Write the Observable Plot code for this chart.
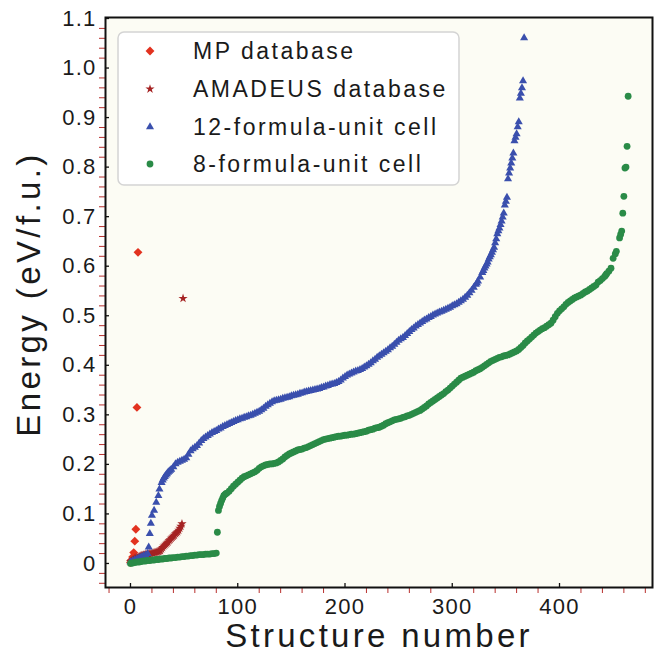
<!DOCTYPE html>
<html><head><meta charset="utf-8">
<script src="https://cdn.jsdelivr.net/npm/d3@7"></script>
<script src="https://cdn.jsdelivr.net/npm/@observablehq/plot@0.6"></script>
<style>
html,body{margin:0;padding:0;background:#fff;}
#chart{width:654px;height:655px;}
svg text{font-family:"Liberation Sans",Arial,Helvetica,sans-serif;}
g[aria-label="x-axis tick label"] text, g[aria-label="y-axis tick label"] text{letter-spacing:1.2px;}
</style></head><body><div id="chart"></div>
<script>
// ---- data ----
const seriesNames = ["MP database", "AMADEUS database", "12-formula-unit cell", "8-formula-unit cell"];
const seriesColors = ["#e2321f", "#a52323", "#3a4fad", "#2a8b47"];

const mpN = [0, 1, 2, 3, 4, 5, 6, 7];
const mpE = [0.002, 0.007, 0.013, 0.022, 0.045, 0.069, 0.315, 0.628];

const amaN = [0, 1, 2, 3, 4, 5, 6, 7, 8, 9, 10, 11, 12, 13, 14, 15, 16, 17, 18, 19, 20, 21, 22, 23, 24, 25, 26, 27, 28, 29, 30, 31, 32, 33, 34, 35, 36, 37, 38, 39, 40, 41, 42, 43, 44, 45, 46, 47, 48, 49];
const amaE = [0.004, 0.005, 0.007, 0.008, 0.010, 0.011, 0.012, 0.013, 0.014, 0.015, 0.016, 0.016, 0.017, 0.017, 0.018, 0.018, 0.019, 0.019, 0.020, 0.020, 0.021, 0.021, 0.022, 0.022, 0.023, 0.023, 0.024, 0.025, 0.026, 0.029, 0.032, 0.035, 0.037, 0.039, 0.041, 0.043, 0.046, 0.048, 0.051, 0.053, 0.055, 0.057, 0.060, 0.062, 0.064, 0.067, 0.071, 0.075, 0.080, 0.535];

const cell12N = [0, 2, 4, 6, 8, 10, 12, 14, 16, 17, 18, 19, 20, 22, 24, 26, 27, 29, 30, 31, 32, 33, 34, 35, 36, 37, 38,
  40, 42, 44, 46, 48, 50, 52, 54, 56, 58, 60, 62, 64, 66, 68, 70, 72, 74, 76, 78, 80, 82, 84, 86, 88, 90, 92, 94, 96, 98,
  100, 102, 104, 106, 108, 110, 112, 114, 116, 118, 120, 122, 124, 126, 128, 130, 132, 134, 136, 138, 140, 142, 144, 146, 148,
  150, 152, 154, 156, 158, 160, 162, 164, 166, 168, 170, 172, 174, 176, 178, 180, 182, 184, 186, 188, 190, 192, 194, 196, 198,
  200, 202, 204, 206, 208, 210, 212, 214, 216, 218, 220, 222, 224, 226, 228, 230, 232, 234, 236, 238, 240, 242, 244, 246, 248,
  250, 252, 254, 256, 258, 260, 262, 264, 266, 268, 270, 272, 274, 276, 278, 280, 282, 284, 286, 288, 290, 292, 294, 296, 298,
  300, 302, 304, 306, 308, 310, 312, 314, 316, 318, 320, 322, 323, 324, 326, 328, 329, 330, 331, 332, 333, 334, 335, 336, 337, 338, 339,
  340, 341, 342, 343, 344, 345, 346, 347, 348, 349, 350, 351, 352, 353, 354, 355, 356, 357, 358, 359, 360, 361, 362, 363, 364, 365, 366, 367];
const cell12E = [0.003, 0.005, 0.007, 0.009, 0.011, 0.013, 0.015, 0.017, 0.020, 0.033, 0.060, 0.081, 0.097, 0.107, 0.123, 0.137, 0.150, 0.163, 0.168, 0.172, 0.175, 0.178, 0.181, 0.184, 0.186, 0.188, 0.190,
  0.195, 0.201, 0.204, 0.206, 0.208, 0.210, 0.213, 0.220, 0.227, 0.231, 0.234, 0.238, 0.243, 0.248, 0.252, 0.255, 0.258, 0.261, 0.264, 0.266, 0.268, 0.271, 0.273, 0.276, 0.278, 0.280, 0.282, 0.284, 0.286, 0.288,
  0.290, 0.292, 0.293, 0.295, 0.296, 0.298, 0.299, 0.301, 0.303, 0.305, 0.307, 0.310, 0.313, 0.317, 0.320, 0.323, 0.326, 0.328, 0.329, 0.330, 0.331, 0.333, 0.334, 0.335, 0.336,
  0.338, 0.339, 0.340, 0.341, 0.343, 0.344, 0.346, 0.347, 0.348, 0.349, 0.350, 0.351, 0.352, 0.353, 0.355, 0.356, 0.358, 0.359, 0.361, 0.362, 0.363, 0.365, 0.367, 0.370, 0.374,
  0.377, 0.380, 0.382, 0.384, 0.386, 0.388, 0.389, 0.391, 0.393, 0.396, 0.399, 0.402, 0.405, 0.409, 0.412, 0.416, 0.419, 0.422, 0.425, 0.428, 0.431, 0.435, 0.438, 0.442, 0.446,
  0.450, 0.453, 0.456, 0.460, 0.464, 0.468, 0.472, 0.475, 0.479, 0.482, 0.485, 0.488, 0.491, 0.493, 0.496, 0.498, 0.501, 0.503, 0.505, 0.507, 0.509, 0.511, 0.513, 0.515, 0.517,
  0.520, 0.522, 0.524, 0.527, 0.530, 0.533, 0.537, 0.541, 0.546, 0.551, 0.557, 0.563, 0.566, 0.570, 0.578, 0.587, 0.591, 0.596, 0.600, 0.604, 0.608, 0.614, 0.619, 0.623, 0.628, 0.633, 0.638,
  0.647, 0.655, 0.665, 0.671, 0.677, 0.684, 0.691, 0.699, 0.707, 0.723, 0.731, 0.739, 0.776, 0.788, 0.798, 0.808, 0.818, 0.828, 0.853, 0.860, 0.867, 0.881, 0.891, 0.939, 0.949, 0.960, 0.974, 1.061];

const cell8N = [0, 2, 4, 6, 8, 10, 12, 14, 16, 18, 20, 22, 24, 26, 28, 30, 32, 34, 36, 38, 40, 42, 44, 46, 48, 50, 52, 54, 56, 58, 60, 62, 64, 66, 68, 70, 72, 74, 76, 78, 80,
  81, 82, 83, 84, 85, 86, 87, 88, 89, 90, 92, 94, 96, 98, 100, 102, 104, 106, 108, 110, 112, 114, 116, 118, 120, 122, 124, 126, 128, 130, 132, 134, 136, 138, 140, 142, 144, 146, 148,
  150, 152, 154, 156, 158, 160, 162, 164, 166, 168, 170, 172, 174, 176, 178, 180, 182, 184, 186, 188, 190, 192, 194, 196, 198,
  200, 202, 204, 206, 208, 210, 212, 214, 216, 218, 220, 222, 224, 226, 228, 230, 232, 234, 236, 238, 240, 242, 244, 246, 248,
  250, 252, 254, 256, 258, 260, 262, 264, 266, 268, 270, 272, 274, 276, 278, 280, 282, 284, 286, 288, 290, 292, 294, 296, 298,
  300, 302, 304, 306, 308, 310, 312, 314, 316, 318, 320, 322, 324, 326, 328, 330, 332, 334, 336, 338, 340, 342, 344, 346, 348,
  350, 352, 354, 356, 358, 360, 362, 364, 366, 368, 370, 372, 374, 376, 378, 380, 382, 384, 386, 388, 390, 392, 394, 396, 398,
  400, 402, 404, 406, 408, 410, 412, 414, 416, 418, 420, 422, 424, 426, 428, 430, 432, 434, 436, 438, 440, 442, 443, 444, 446, 448,
  450, 452, 453, 456, 457, 458, 459, 460, 461, 462, 463, 464];
const cell8E = [0.000, 0.001, 0.002, 0.003, 0.003, 0.004, 0.005, 0.005, 0.006, 0.006, 0.007, 0.007, 0.008, 0.008, 0.009, 0.009, 0.010, 0.010, 0.011, 0.011, 0.012, 0.012, 0.013, 0.013, 0.014, 0.014, 0.015, 0.015, 0.016, 0.016, 0.017, 0.017, 0.018, 0.018, 0.018, 0.019, 0.019, 0.019, 0.020, 0.020, 0.021,
  0.063, 0.107, 0.115, 0.121, 0.127, 0.132, 0.137, 0.139, 0.141, 0.142, 0.146, 0.151, 0.156, 0.160, 0.164, 0.168, 0.172, 0.175, 0.177, 0.179, 0.181, 0.183, 0.185, 0.188, 0.192, 0.195, 0.197, 0.199, 0.200, 0.201, 0.201, 0.202, 0.203, 0.205, 0.208, 0.211, 0.215, 0.218, 0.221,
  0.223, 0.225, 0.227, 0.229, 0.230, 0.231, 0.233, 0.234, 0.236, 0.238, 0.240, 0.242, 0.244, 0.246, 0.248, 0.250, 0.251, 0.252, 0.253, 0.254, 0.255, 0.256, 0.257, 0.257, 0.258,
  0.259, 0.259, 0.260, 0.261, 0.261, 0.262, 0.263, 0.264, 0.265, 0.266, 0.267, 0.269, 0.270, 0.271, 0.273, 0.274, 0.275, 0.277, 0.279, 0.282, 0.284, 0.286, 0.288, 0.290, 0.291,
  0.292, 0.293, 0.295, 0.296, 0.298, 0.299, 0.301, 0.303, 0.305, 0.307, 0.309, 0.312, 0.315, 0.318, 0.322, 0.325, 0.328, 0.331, 0.334, 0.337, 0.340, 0.343, 0.347, 0.350, 0.354,
  0.358, 0.362, 0.366, 0.370, 0.374, 0.376, 0.378, 0.380, 0.382, 0.384, 0.386, 0.389, 0.391, 0.393, 0.396, 0.399, 0.402, 0.405, 0.408, 0.410, 0.412, 0.414, 0.416, 0.417, 0.419,
  0.420, 0.421, 0.423, 0.425, 0.427, 0.429, 0.432, 0.436, 0.440, 0.445, 0.449, 0.453, 0.457, 0.461, 0.465, 0.468, 0.471, 0.474, 0.476, 0.479, 0.482, 0.485, 0.491, 0.498, 0.505,
  0.510, 0.514, 0.518, 0.523, 0.527, 0.530, 0.533, 0.536, 0.538, 0.540, 0.542, 0.545, 0.548, 0.550, 0.553, 0.556, 0.559, 0.562, 0.568, 0.571, 0.575, 0.579, 0.582, 0.585, 0.590, 0.596,
  0.616, 0.625, 0.630, 0.657, 0.664, 0.671, 0.707, 0.741, 0.798, 0.800, 0.842, 0.943];

const xTicks = [0, 100, 200, 300, 400];
const xTickLabels = ["0", "100", "200", "300", "400"];
const yTicks = [0, 0.1, 0.2, 0.3, 0.4, 0.5, 0.6, 0.7, 0.8, 0.9, 1.0, 1.1];
const yTickLabels = ["0", "0.1", "0.2", "0.3", "0.4", "0.5", "0.6", "0.7", "0.8", "0.9", "1.0", "1.1"];
const xTitle = "Structure number";
const yTitle = "Energy (eV/f.u.)";

// ---- chart ----
const xMinor = d3.range(-20, 481, 20).filter(v => !xTicks.includes(v));
const yMinor = d3.range(-4, 111, 2).map(v => v / 100).filter(v => !yTicks.some(t => Math.abs(t - v) < 1e-9));
const symbols = ["diamond2", "star", "triangle", "circle"];
const radii = [4, 2.9, 3.0, 3.4];
const txtColor = "#1a1a1a";

const chart = Plot.plot({
  width: 654, height: 655,
  marginLeft: 105, marginRight: 2, marginTop: 17, marginBottom: 68,
  x: {domain: [-23.3, 486.7]},
  y: {domain: [-0.0485, 1.102]},
  style: {background: "white", fontFamily: "Liberation Sans, Arial, sans-serif", overflow: "visible"},
  marks: [
    Plot.frame({fill: "#fcfcf4", stroke: null}),
    Plot.axisX({ticks: xMinor, tickSize: 6, stroke: "#b8302e", fill: "none", label: null}),
    Plot.axisY({ticks: yMinor, tickSize: 6, stroke: "#b8302e", fill: "none", label: null}),
    Plot.axisX({ticks: xTicks, tickSize: -4, stroke: "#111", strokeWidth: 1.3, fill: "none", label: null}),
    Plot.axisY({ticks: yTicks, tickSize: -4, stroke: "#111", strokeWidth: 1.3, fill: "none", label: null}),
    Plot.axisX({ticks: xTicks, tickSize: 0, tickPadding: 11, fontSize: 22, fill: txtColor, label: null,
      tickFormat: d => xTickLabels[xTicks.indexOf(d)]}),
    Plot.axisY({ticks: yTicks, tickSize: 0, tickPadding: 9, fontSize: 22, fill: txtColor, label: null,
      tickFormat: d => yTickLabels[yTicks.indexOf(d)]}),
    Plot.dot(mpE, {x: mpN, y: mpE, symbol: symbols[0], r: radii[0], fill: seriesColors[0]}),
    Plot.dot(amaE, {x: amaN, y: amaE, symbol: symbols[1], r: radii[1], fill: seriesColors[1]}),
    Plot.dot(cell12E, {x: cell12N, y: cell12E, symbol: symbols[2], r: radii[2], fill: seriesColors[2]}),
    Plot.dot(cell8E, {x: cell8N, y: cell8E, symbol: symbols[3], r: radii[3], fill: seriesColors[3]}),
    Plot.frame({stroke: "#111", strokeWidth: 2})
  ]
});
document.getElementById("chart").appendChild(chart);

// ---- axis titles and legend ----
const svg = d3.select(chart);
svg.append("text")
  .attr("x", 379).attr("y", 647)
  .attr("text-anchor", "middle")
  .attr("font-size", 33).attr("letter-spacing", "3.3px")
  .attr("fill", txtColor).text(xTitle);
svg.append("text")
  .attr("transform", "translate(40,294) rotate(-90)")
  .attr("text-anchor", "middle")
  .attr("font-size", 33).attr("letter-spacing", "3.4px")
  .attr("fill", txtColor).text(yTitle);

const lg = svg.append("g");
lg.append("rect").attr("x", 118).attr("y", 32).attr("width", 341).attr("height", 153)
  .attr("rx", 6).attr("fill", "white").attr("stroke", "#d4d4d4").attr("stroke-width", 1.5);
const symbolTypes = [d3.symbolDiamond2 || d3.symbolDiamond, d3.symbolStar, d3.symbolTriangle, d3.symbolCircle];
const rowY = [51, 89, 127, 164];
seriesNames.forEach((name, i) => {
  lg.append("path")
    .attr("transform", `translate(150,${rowY[i]})`)
    .attr("d", d3.symbol(symbolTypes[i], Math.PI * radii[i] * radii[i])())
    .attr("fill", seriesColors[i]);
  lg.append("text")
    .attr("x", 193).attr("y", rowY[i] + 8)
    .attr("text-anchor", "start")
    .attr("font-size", 23).attr("letter-spacing", "2.5px")
    .attr("fill", txtColor).text(name);
});
</script></body></html>
